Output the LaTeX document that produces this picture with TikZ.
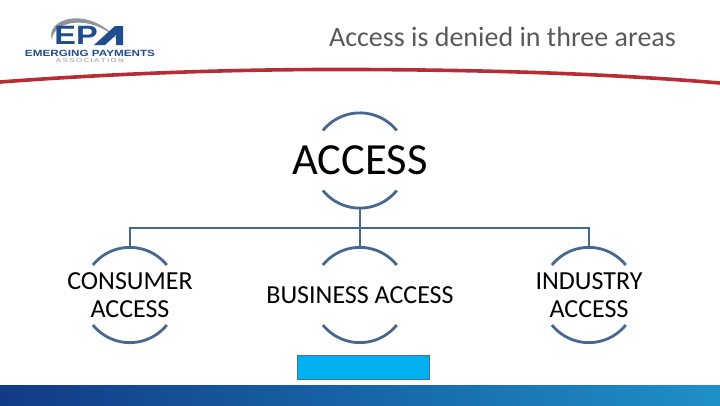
\documentclass[tikz,border=0pt]{standalone}
\usepackage{fontspec}
\setmainfont{Carlito}
\newfontfamily\logofont{Liberation Sans}
\usetikzlibrary{calc,positioning}
\definecolor{ringblue}{HTML}{44688F}
\definecolor{logoblue}{HTML}{1F4E8C}
\definecolor{logogray}{HTML}{8E949A}
\definecolor{swooshred}{HTML}{B82C33}
\definecolor{titlegray}{HTML}{595959}
\definecolor{bandleft}{HTML}{123A85}
\definecolor{bandright}{HTML}{1E90C8}
\definecolor{boxcyan}{HTML}{00B0F0}
\definecolor{boxedge}{HTML}{41719C}

\begin{document}
\begin{tikzpicture}[
        x=1pt, y=-1pt,
        ring/.style={
            circle,
            minimum size=95pt,
            inner sep=0pt
        },
        ringtext/.style={
            align=center,
            inner sep=0pt,
            font=\fontsize{26}{28}\selectfont
        },
        arcline/.style={draw=ringblue, line width=2.8pt},
        link/.style={draw=ringblue, line width=2.8pt}
    ]
        \useasboundingbox (0,0) rectangle (720,405);

        % band and red line
        \fill[left color=bandleft, right color=bandright] (0,385) rectangle (720,405);
        \draw[draw=swooshred, line width=3.6pt] (0,82) .. controls (120,73) and (240,69) .. (360,69.5)
            .. controls (480,70) and (600,73) .. (720,83);

        % logo
        \fill[logogray] (52,40) .. controls (44,18) and (92,3) .. (122,45)
            .. controls (96,12) and (52,20) .. (52,40);
        \node[inner sep=0pt, text=logoblue, font=\logofont\bfseries\fontsize{26}{26}\selectfont] (logoep) at (76,35.5) {\scalebox{1.25}[1.02]{EP}};
        \fill[logoblue] (94,45) -- (115,26) -- (123,26) -- (123,45) -- (116,45) -- (116,35) -- (105,45) -- cycle;
        \node[inner sep=0pt, text=logoblue, font=\logofont\bfseries\fontsize{9}{9}\selectfont] (logoname) at (90,53.5) {\scalebox{1.3}[1]{EMERGING PAYMENTS}};
        \node[inner sep=0pt, text=logogray, font=\logofont\fontsize{5.5}{6}\selectfont] (logosub) at (90,61) {\scalebox{1.45}[1]{A\,S\,S\,O\,C\,I\,A\,T\,I\,O\,N}};

        \node[anchor=east, inner sep=0pt, text=titlegray, font=\fontsize{28}{30}\selectfont] (title) at (676,37) {Access is denied in three areas};

        \node[ring] (access) at (360,160.5) {};
        \node[ring] (consumer) at (130,295) {};
        \node[ring] (business) at (360,295) {};
        \node[ring] (industry) at (589,295) {};
        \node[ringtext, font=\fontsize{44.5}{48}\selectfont] (accesstext) at (access) {ACCESS};
        \node[ringtext] (consumertext) at (consumer) {CONSUMER\\ACCESS};
        \node[ringtext] (businesstext) at (business) {BUSINESS ACCESS};
        \node[ringtext] (industrytext) at (industry) {INDUSTRY\\ACCESS};

        \foreach \n in {access,consumer,business,industry} {
            \draw[arcline] (\n.141) arc[start angle=141, end angle=39, radius=47.5pt];
            \draw[arcline] (\n.219) arc[start angle=219, end angle=321, radius=47.5pt];
        }

        \coordinate (busline) at (360,228);
        \draw[link] (access.south) -- (business.north);
        \draw[link] (busline) -| (consumer.north);
        \draw[link] (busline) -| (industry.north);

        \node[draw=boxedge, fill=boxcyan, line width=0.7pt, minimum width=132pt, minimum height=24pt, inner sep=0pt] (bluebox) at (363,367) {};
    \end{tikzpicture}
\end{document}
